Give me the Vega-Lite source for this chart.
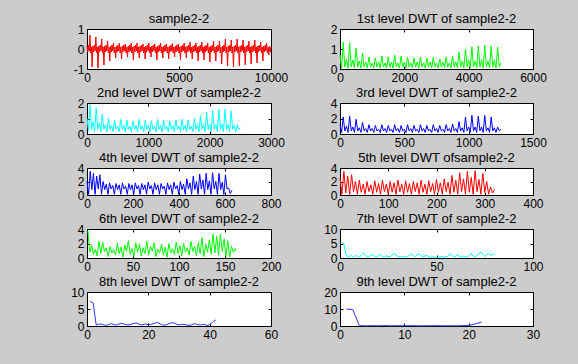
{
"$schema": "https://vega.github.io/schema/vega-lite/v6.json",
"background": "#cccccc",
"padding": {"left": 70, "top": 12, "right": 32, "bottom": 27},
"bounds": "flush",
"columns": 2,
"spacing": {"row": 34, "column": 69},
"datasets": {
"p1": [{"x":0,"y":0.15},{"x":40,"y":-0.15},{"x":80,"y":0.2},{"x":120,"y":-0.1},{"x":160,"y":0.7},{"x":200,"y":-0.2},{"x":240,"y":0.1},{"x":280,"y":-0.9},
{"x":320,"y":0.15},{"x":360,"y":-0.15},{"x":400,"y":0.2},{"x":440,"y":-0.1},{"x":480,"y":0.6},{"x":520,"y":-0.2},{"x":560,"y":0.1},{"x":600,"y":-0.95},
{"x":640,"y":0.15},{"x":680,"y":-0.15},{"x":720,"y":0.2},{"x":760,"y":-0.1},{"x":800,"y":0.5},{"x":840,"y":-0.2},{"x":880,"y":0.1},{"x":920,"y":-0.8},
{"x":960,"y":0.15},{"x":1000,"y":-0.15},{"x":1040,"y":0.2},{"x":1080,"y":-0.1},{"x":1120,"y":0.4},{"x":1160,"y":-0.2},{"x":1200,"y":0.1},{"x":1240,"y":-0.6},
{"x":1280,"y":0.15},{"x":1320,"y":-0.15},{"x":1360,"y":0.2},{"x":1400,"y":-0.1},{"x":1440,"y":0.3},{"x":1480,"y":-0.2},{"x":1520,"y":0.1},{"x":1560,"y":-0.45},
{"x":1600,"y":0.15},{"x":1640,"y":-0.15},{"x":1680,"y":0.2},{"x":1720,"y":-0.1},{"x":1760,"y":0.3},{"x":1800,"y":-0.2},{"x":1840,"y":0.1},{"x":1880,"y":-0.5},
{"x":1920,"y":0.15},{"x":1960,"y":-0.15},{"x":2000,"y":0.2},{"x":2040,"y":-0.1},{"x":2080,"y":0.25},{"x":2120,"y":-0.2},{"x":2160,"y":0.1},{"x":2200,"y":-0.4},
{"x":2240,"y":0.15},{"x":2280,"y":-0.15},{"x":2320,"y":0.2},{"x":2360,"y":-0.1},{"x":2400,"y":0.3},{"x":2440,"y":-0.2},{"x":2480,"y":0.1},{"x":2520,"y":-0.55},
{"x":2560,"y":0.15},{"x":2600,"y":-0.15},{"x":2640,"y":0.2},{"x":2680,"y":-0.1},{"x":2720,"y":0.3},{"x":2760,"y":-0.2},{"x":2800,"y":0.1},{"x":2840,"y":-0.45},
{"x":2880,"y":0.15},{"x":2920,"y":-0.15},{"x":2960,"y":0.2},{"x":3000,"y":-0.1},{"x":3040,"y":0.25},{"x":3080,"y":-0.2},{"x":3120,"y":0.1},{"x":3160,"y":-0.5},
{"x":3200,"y":0.15},{"x":3240,"y":-0.15},{"x":3280,"y":0.2},{"x":3320,"y":-0.1},{"x":3360,"y":0.3},{"x":3400,"y":-0.2},{"x":3440,"y":0.1},{"x":3480,"y":-0.4},
{"x":3520,"y":0.15},{"x":3560,"y":-0.15},{"x":3600,"y":0.2},{"x":3640,"y":-0.1},{"x":3680,"y":0.25},{"x":3720,"y":-0.2},{"x":3760,"y":0.1},{"x":3800,"y":-0.55},
{"x":3840,"y":0.15},{"x":3880,"y":-0.15},{"x":3920,"y":0.2},{"x":3960,"y":-0.1},{"x":4000,"y":0.3},{"x":4040,"y":-0.2},{"x":4080,"y":0.1},{"x":4120,"y":-0.45},
{"x":4160,"y":0.15},{"x":4200,"y":-0.15},{"x":4240,"y":0.2},{"x":4280,"y":-0.1},{"x":4320,"y":0.25},{"x":4360,"y":-0.2},{"x":4400,"y":0.1},{"x":4440,"y":-0.5},
{"x":4480,"y":0.15},{"x":4520,"y":-0.15},{"x":4560,"y":0.2},{"x":4600,"y":-0.1},{"x":4640,"y":0.3},{"x":4680,"y":-0.2},{"x":4720,"y":0.1},{"x":4760,"y":-0.4},
{"x":4800,"y":0.15},{"x":4840,"y":-0.15},{"x":4880,"y":0.2},{"x":4920,"y":-0.1},{"x":4960,"y":0.25},{"x":5000,"y":-0.2},{"x":5040,"y":0.1},{"x":5080,"y":-0.55},
{"x":5120,"y":0.15},{"x":5160,"y":-0.15},{"x":5200,"y":0.2},{"x":5240,"y":-0.1},{"x":5280,"y":0.3},{"x":5320,"y":-0.2},{"x":5360,"y":0.1},{"x":5400,"y":-0.45},
{"x":5440,"y":0.15},{"x":5480,"y":-0.15},{"x":5520,"y":0.2},{"x":5560,"y":-0.1},{"x":5600,"y":0.35},{"x":5640,"y":-0.2},{"x":5680,"y":0.1},{"x":5720,"y":-0.5},
{"x":5760,"y":0.15},{"x":5800,"y":-0.15},{"x":5840,"y":0.2},{"x":5880,"y":-0.1},{"x":5920,"y":0.3},{"x":5960,"y":-0.2},{"x":6000,"y":0.1},{"x":6040,"y":-0.6},
{"x":6080,"y":0.15},{"x":6120,"y":-0.15},{"x":6160,"y":0.2},{"x":6200,"y":-0.1},{"x":6240,"y":0.35},{"x":6280,"y":-0.2},{"x":6320,"y":0.1},{"x":6360,"y":-0.55},
{"x":6400,"y":0.15},{"x":6440,"y":-0.15},{"x":6480,"y":0.2},{"x":6520,"y":-0.1},{"x":6560,"y":0.3},{"x":6600,"y":-0.2},{"x":6640,"y":0.1},{"x":6680,"y":-0.65},
{"x":6720,"y":0.15},{"x":6760,"y":-0.15},{"x":6800,"y":0.2},{"x":6840,"y":-0.1},{"x":6880,"y":0.4},{"x":6920,"y":-0.2},{"x":6960,"y":0.1},{"x":7000,"y":-0.6},
{"x":7040,"y":0.15},{"x":7080,"y":-0.15},{"x":7120,"y":0.2},{"x":7160,"y":-0.1},{"x":7200,"y":0.4},{"x":7240,"y":-0.2},{"x":7280,"y":0.1},{"x":7320,"y":-0.75},
{"x":7360,"y":0.15},{"x":7400,"y":-0.15},{"x":7440,"y":0.2},{"x":7480,"y":-0.1},{"x":7520,"y":0.5},{"x":7560,"y":-0.2},{"x":7600,"y":0.1},{"x":7640,"y":-0.85},
{"x":7680,"y":0.15},{"x":7720,"y":-0.15},{"x":7760,"y":0.2},{"x":7800,"y":-0.1},{"x":7840,"y":0.45},{"x":7880,"y":-0.2},{"x":7920,"y":0.1},{"x":7960,"y":-0.9},
{"x":8000,"y":0.15},{"x":8040,"y":-0.15},{"x":8080,"y":0.2},{"x":8120,"y":-0.1},{"x":8160,"y":0.5},{"x":8200,"y":-0.2},{"x":8240,"y":0.1},{"x":8280,"y":-0.85},
{"x":8320,"y":0.15},{"x":8360,"y":-0.15},{"x":8400,"y":0.2},{"x":8440,"y":-0.1},{"x":8480,"y":0.45},{"x":8520,"y":-0.2},{"x":8560,"y":0.1},{"x":8600,"y":-0.8},
{"x":8640,"y":0.15},{"x":8680,"y":-0.15},{"x":8720,"y":0.2},{"x":8760,"y":-0.1},{"x":8800,"y":0.4},{"x":8840,"y":-0.2},{"x":8880,"y":0.1},{"x":8920,"y":-0.75},
{"x":8960,"y":0.15},{"x":9000,"y":-0.15},{"x":9040,"y":0.2},{"x":9080,"y":-0.1},{"x":9120,"y":0.45},{"x":9160,"y":-0.2},{"x":9200,"y":0.1},{"x":9240,"y":-0.7},
{"x":9280,"y":0.15},{"x":9320,"y":-0.15},{"x":9360,"y":0.2},{"x":9400,"y":-0.1},{"x":9440,"y":0.35},{"x":9480,"y":-0.2},{"x":9520,"y":0.1},{"x":9560,"y":-0.6},
{"x":9600,"y":0.15},{"x":9640,"y":-0.15},{"x":9680,"y":0.2},{"x":9720,"y":-0.1},{"x":9760,"y":0.3},{"x":9800,"y":-0.2},{"x":9840,"y":0.1},{"x":9880,"y":-0.3},
{"x":9920,"y":0.15},{"x":9960,"y":-0.15},{"x":10000,"y":0.1}],
"p2": [{"x":0,"y":0.7},{"x":50,"y":0.05},{"x":100,"y":1.35},{"x":150,"y":0.1},{"x":200,"y":0.5},{"x":250,"y":0.05},{"x":300,"y":1.3},{"x":350,"y":0.1},{"x":400,"y":0.45},{"x":450,"y":0.05},{"x":500,"y":1.05},{"x":550,"y":0.1},{"x":600,"y":0.4},{"x":650,"y":0.05},{"x":700,"y":0.8},{"x":750,"y":0.1},{"x":800,"y":0.35},{"x":850,"y":0.05},{"x":900,"y":0.6},{"x":950,"y":0.1},{"x":1000,"y":0.3},{"x":1050,"y":0.05},{"x":1100,"y":0.55},{"x":1150,"y":0.1},{"x":1200,"y":0.35},{"x":1250,"y":0.05},{"x":1300,"y":0.65},{"x":1350,"y":0.1},{"x":1400,"y":0.3},{"x":1450,"y":0.05},{"x":1500,"y":0.6},{"x":1550,"y":0.1},{"x":1600,"y":0.35},{"x":1650,"y":0.05},{"x":1700,"y":0.7},{"x":1750,"y":0.1},{"x":1800,"y":0.3},{"x":1850,"y":0.05},{"x":1900,"y":0.65},{"x":1950,"y":0.1},{"x":2000,"y":0.35},{"x":2050,"y":0.05},{"x":2100,"y":0.6},{"x":2150,"y":0.1},{"x":2200,"y":0.3},{"x":2250,"y":0.05},{"x":2300,"y":0.55},{"x":2350,"y":0.1},{"x":2400,"y":0.35},{"x":2450,"y":0.05},{"x":2500,"y":0.6},{"x":2550,"y":0.1},{"x":2600,"y":0.3},{"x":2650,"y":0.05},{"x":2700,"y":0.55},{"x":2750,"y":0.1},{"x":2800,"y":0.35},{"x":2850,"y":0.05},{"x":2900,"y":0.6},{"x":2950,"y":0.1},{"x":3000,"y":0.3},{"x":3050,"y":0.05},{"x":3100,"y":0.5},{"x":3150,"y":0.1},{"x":3200,"y":0.35},{"x":3250,"y":0.05},{"x":3300,"y":0.6},{"x":3350,"y":0.1},{"x":3400,"y":0.3},{"x":3450,"y":0.05},{"x":3500,"y":0.65},{"x":3550,"y":0.1},{"x":3600,"y":0.35},{"x":3650,"y":0.05},{"x":3700,"y":0.85},{"x":3750,"y":0.1},{"x":3800,"y":0.4},{"x":3850,"y":0.05},{"x":3900,"y":1.0},{"x":3950,"y":0.1},{"x":4000,"y":0.45},{"x":4050,"y":0.05},{"x":4100,"y":1.1},{"x":4150,"y":0.1},{"x":4200,"y":0.4},{"x":4250,"y":0.05},{"x":4300,"y":1.15},{"x":4350,"y":0.1},{"x":4400,"y":0.45},{"x":4450,"y":0.05},{"x":4500,"y":1.2},{"x":4550,"y":0.1},{"x":4600,"y":0.4},{"x":4650,"y":0.05},{"x":4700,"y":1.15},{"x":4750,"y":0.1},{"x":4800,"y":0.45},{"x":4850,"y":0.05},{"x":4900,"y":1.1},{"x":4950,"y":0.1},{"x":5000,"y":0.3}],
"p3": [{"x":0,"y":1.0},{"x":25,"y":0.2},{"x":50,"y":1.9},{"x":75,"y":0.3},{"x":100,"y":0.8},{"x":125,"y":0.15},{"x":150,"y":1.7},{"x":175,"y":0.3},{"x":200,"y":0.7},{"x":225,"y":0.15},{"x":250,"y":1.3},{"x":275,"y":0.3},{"x":300,"y":0.6},{"x":325,"y":0.15},{"x":350,"y":1.0},{"x":375,"y":0.3},{"x":400,"y":0.55},{"x":425,"y":0.15},{"x":450,"y":0.9},{"x":475,"y":0.3},{"x":500,"y":0.5},{"x":525,"y":0.15},{"x":550,"y":0.95},{"x":575,"y":0.3},{"x":600,"y":0.55},{"x":625,"y":0.15},{"x":650,"y":0.9},{"x":675,"y":0.3},{"x":700,"y":0.5},{"x":725,"y":0.15},{"x":750,"y":0.85},{"x":775,"y":0.3},{"x":800,"y":0.55},{"x":825,"y":0.15},{"x":850,"y":0.95},{"x":875,"y":0.3},{"x":900,"y":0.5},{"x":925,"y":0.15},{"x":950,"y":0.9},{"x":975,"y":0.3},{"x":1000,"y":0.55},{"x":1025,"y":0.15},{"x":1050,"y":0.85},{"x":1075,"y":0.3},{"x":1100,"y":0.5},{"x":1125,"y":0.15},{"x":1150,"y":0.95},{"x":1175,"y":0.3},{"x":1200,"y":0.55},{"x":1225,"y":0.15},{"x":1250,"y":0.9},{"x":1275,"y":0.3},{"x":1300,"y":0.5},{"x":1325,"y":0.15},{"x":1350,"y":0.85},{"x":1375,"y":0.3},{"x":1400,"y":0.55},{"x":1425,"y":0.15},{"x":1450,"y":0.9},{"x":1475,"y":0.3},{"x":1500,"y":0.5},{"x":1525,"y":0.15},{"x":1550,"y":0.95},{"x":1575,"y":0.3},{"x":1600,"y":0.55},{"x":1625,"y":0.15},{"x":1650,"y":0.9},{"x":1675,"y":0.3},{"x":1700,"y":0.5},{"x":1725,"y":0.15},{"x":1750,"y":1.0},{"x":1775,"y":0.3},{"x":1800,"y":0.6},{"x":1825,"y":0.15},{"x":1850,"y":1.2},{"x":1875,"y":0.3},{"x":1900,"y":0.6},{"x":1925,"y":0.15},{"x":1950,"y":1.4},{"x":1975,"y":0.3},{"x":2000,"y":0.65},{"x":2025,"y":0.15},{"x":2050,"y":1.5},{"x":2075,"y":0.3},{"x":2100,"y":0.6},{"x":2125,"y":0.15},{"x":2150,"y":1.6},{"x":2175,"y":0.3},{"x":2200,"y":0.65},{"x":2225,"y":0.15},{"x":2250,"y":1.6},{"x":2275,"y":0.3},{"x":2300,"y":0.6},{"x":2325,"y":0.15},{"x":2350,"y":1.5},{"x":2375,"y":0.3},{"x":2400,"y":0.55},{"x":2425,"y":0.15},{"x":2450,"y":0.6},{"x":2475,"y":0.3},{"x":2500,"y":0.4}],
"p4": [{"x":0,"y":1.2},{"x":12.5,"y":0.2},{"x":25,"y":2.2},{"x":37.5,"y":0.4},{"x":50,"y":1.0},{"x":62.5,"y":0.2},{"x":75,"y":2.3},{"x":87.5,"y":0.4},{"x":100,"y":0.9},{"x":112.5,"y":0.2},{"x":125,"y":1.9},{"x":137.5,"y":0.4},{"x":150,"y":0.8},{"x":162.5,"y":0.2},{"x":175,"y":1.5},{"x":187.5,"y":0.4},{"x":200,"y":0.7},{"x":212.5,"y":0.2},{"x":225,"y":1.2},{"x":237.5,"y":0.4},{"x":250,"y":0.7},{"x":262.5,"y":0.2},{"x":275,"y":1.1},{"x":287.5,"y":0.4},{"x":300,"y":0.6},{"x":312.5,"y":0.2},{"x":325,"y":1.2},{"x":337.5,"y":0.4},{"x":350,"y":0.7},{"x":362.5,"y":0.2},{"x":375,"y":1.1},{"x":387.5,"y":0.4},{"x":400,"y":0.6},{"x":412.5,"y":0.2},{"x":425,"y":1.2},{"x":437.5,"y":0.4},{"x":450,"y":0.7},{"x":462.5,"y":0.2},{"x":475,"y":1.1},{"x":487.5,"y":0.4},{"x":500,"y":0.6},{"x":512.5,"y":0.2},{"x":525,"y":1.2},{"x":537.5,"y":0.4},{"x":550,"y":0.7},{"x":562.5,"y":0.2},{"x":575,"y":1.1},{"x":587.5,"y":0.4},{"x":600,"y":0.6},{"x":612.5,"y":0.2},{"x":625,"y":1.2},{"x":637.5,"y":0.4},{"x":650,"y":0.7},{"x":662.5,"y":0.2},{"x":675,"y":1.1},{"x":687.5,"y":0.4},{"x":700,"y":0.6},{"x":712.5,"y":0.2},{"x":725,"y":1.2},{"x":737.5,"y":0.4},{"x":750,"y":0.7},{"x":762.5,"y":0.2},{"x":775,"y":1.1},{"x":787.5,"y":0.4},{"x":800,"y":0.6},{"x":812.5,"y":0.2},{"x":825,"y":1.2},{"x":837.5,"y":0.4},{"x":850,"y":0.7},{"x":862.5,"y":0.2},{"x":875,"y":1.3},{"x":887.5,"y":0.4},{"x":900,"y":0.7},{"x":912.5,"y":0.2},{"x":925,"y":1.6},{"x":937.5,"y":0.4},{"x":950,"y":0.8},{"x":962.5,"y":0.2},{"x":975,"y":2.2},{"x":987.5,"y":0.4},{"x":1000,"y":0.9},{"x":1012.5,"y":0.2},{"x":1025,"y":2.4},{"x":1037.5,"y":0.4},{"x":1050,"y":0.9},{"x":1062.5,"y":0.2},{"x":1075,"y":2.3},{"x":1087.5,"y":0.4},{"x":1100,"y":0.9},{"x":1112.5,"y":0.2},{"x":1125,"y":2.4},{"x":1137.5,"y":0.4},{"x":1150,"y":0.8},{"x":1162.5,"y":0.2},{"x":1175,"y":2.2},{"x":1187.5,"y":0.4},{"x":1200,"y":0.8},{"x":1212.5,"y":0.2},{"x":1225,"y":0.9},{"x":1237.5,"y":0.4},{"x":1250,"y":0.6}],
"p5": [{"x":0,"y":2.0},{"x":7,"y":0.1},{"x":14,"y":3.5},{"x":21,"y":0.8},{"x":28,"y":3.2},{"x":35,"y":0.1},{"x":42,"y":2.8},{"x":49,"y":0.9},{"x":56,"y":3.0},{"x":63,"y":0.1},{"x":70,"y":2.0},{"x":77,"y":0.8},{"x":84,"y":1.6},{"x":91,"y":0.1},{"x":98,"y":1.8},{"x":105,"y":0.9},{"x":112,"y":1.4},{"x":119,"y":0.1},{"x":126,"y":1.7},{"x":133,"y":0.8},{"x":140,"y":1.5},{"x":147,"y":0.1},{"x":154,"y":1.8},{"x":161,"y":0.9},{"x":168,"y":1.3},{"x":175,"y":0.1},{"x":182,"y":1.7},{"x":189,"y":0.8},{"x":196,"y":1.5},{"x":203,"y":0.1},{"x":210,"y":1.8},{"x":217,"y":0.9},{"x":224,"y":1.4},{"x":231,"y":0.1},{"x":238,"y":1.7},{"x":245,"y":0.8},{"x":252,"y":1.5},{"x":259,"y":0.1},{"x":266,"y":1.9},{"x":273,"y":0.9},{"x":280,"y":1.4},{"x":287,"y":0.1},{"x":294,"y":1.8},{"x":301,"y":0.8},{"x":308,"y":1.5},{"x":315,"y":0.1},{"x":322,"y":1.7},{"x":329,"y":0.9},{"x":336,"y":1.3},{"x":343,"y":0.1},{"x":350,"y":1.8},{"x":357,"y":0.8},{"x":364,"y":1.5},{"x":371,"y":0.1},{"x":378,"y":1.9},{"x":385,"y":0.9},{"x":392,"y":1.4},{"x":399,"y":0.1},{"x":406,"y":2.0},{"x":413,"y":0.8},{"x":420,"y":1.6},{"x":427,"y":0.1},{"x":434,"y":2.4},{"x":441,"y":0.9},{"x":448,"y":1.8},{"x":455,"y":0.1},{"x":462,"y":2.8},{"x":469,"y":0.8},{"x":476,"y":2.0},{"x":483,"y":0.1},{"x":490,"y":3.1},{"x":497,"y":0.9},{"x":504,"y":2.2},{"x":511,"y":0.1},{"x":518,"y":3.2},{"x":525,"y":0.8},{"x":532,"y":2.1},{"x":539,"y":0.1},{"x":546,"y":3.3},{"x":553,"y":0.9},{"x":560,"y":2.0},{"x":567,"y":0.1},{"x":574,"y":3.2},{"x":581,"y":0.8},{"x":588,"y":1.9},{"x":595,"y":0.1},{"x":602,"y":3.0},{"x":609,"y":0.9},{"x":616,"y":1.0},{"x":623,"y":0.2},{"x":630,"y":0.7}],
"p6": [{"x":0,"y":2.5},{"x":4,"y":0.1},{"x":8,"y":3.5},{"x":12,"y":0.3},{"x":16,"y":2.8},{"x":20,"y":0.1},{"x":24,"y":3.0},{"x":28,"y":0.5},{"x":32,"y":2.0},{"x":36,"y":0.1},{"x":40,"y":2.2},{"x":44,"y":0.4},{"x":48,"y":1.6},{"x":52,"y":0.1},{"x":56,"y":2.0},{"x":60,"y":0.5},{"x":64,"y":1.5},{"x":68,"y":0.1},{"x":72,"y":2.1},{"x":76,"y":0.4},{"x":80,"y":1.7},{"x":84,"y":0.1},{"x":88,"y":2.2},{"x":92,"y":0.5},{"x":96,"y":1.6},{"x":100,"y":0.1},{"x":104,"y":2.0},{"x":108,"y":0.4},{"x":112,"y":1.8},{"x":116,"y":0.1},{"x":120,"y":2.2},{"x":124,"y":0.5},{"x":128,"y":1.6},{"x":132,"y":0.1},{"x":136,"y":2.1},{"x":140,"y":0.4},{"x":144,"y":1.7},{"x":148,"y":0.1},{"x":152,"y":2.0},{"x":156,"y":0.5},{"x":160,"y":1.8},{"x":164,"y":0.1},{"x":168,"y":2.2},{"x":172,"y":0.4},{"x":176,"y":1.6},{"x":180,"y":0.1},{"x":184,"y":2.1},{"x":188,"y":0.5},{"x":192,"y":1.7},{"x":196,"y":0.1},{"x":200,"y":2.3},{"x":204,"y":0.4},{"x":208,"y":1.8},{"x":212,"y":0.1},{"x":216,"y":2.4},{"x":220,"y":0.5},{"x":224,"y":1.9},{"x":228,"y":0.1},{"x":232,"y":2.9},{"x":236,"y":0.4},{"x":240,"y":2.2},{"x":244,"y":0.1},{"x":248,"y":3.3},{"x":252,"y":0.5},{"x":256,"y":2.4},{"x":260,"y":0.1},{"x":264,"y":3.5},{"x":268,"y":0.4},{"x":272,"y":2.6},{"x":276,"y":0.1},{"x":280,"y":3.6},{"x":284,"y":0.5},{"x":288,"y":2.3},{"x":292,"y":0.1},{"x":296,"y":3.2},{"x":300,"y":0.4},{"x":304,"y":2.0},{"x":308,"y":0.1},{"x":312,"y":1.2},{"x":316,"y":0.3},{"x":320,"y":0.8}],
"p7": [{"x":1,"y":3.8},{"x":3,"y":0.8},{"x":5,"y":1.8},{"x":7,"y":0.5},{"x":9,"y":1.2},{"x":11,"y":0.3},{"x":13,"y":2.3},{"x":15,"y":0.6},{"x":17,"y":2.2},{"x":19,"y":0.9},{"x":21,"y":1.4},{"x":23,"y":0.2},{"x":25,"y":1.6},{"x":27,"y":0.7},{"x":29,"y":1.2},{"x":31,"y":0.4},{"x":33,"y":2.0},{"x":35,"y":0.6},{"x":37,"y":1.5},{"x":39,"y":0.1},{"x":41,"y":1.8},{"x":43,"y":0.9},{"x":45,"y":2.4},{"x":47,"y":0.5},{"x":49,"y":1.3},{"x":51,"y":0.2},{"x":53,"y":2.1},{"x":55,"y":0.8},{"x":57,"y":1.9},{"x":59,"y":0.3},{"x":61,"y":1.4},{"x":63,"y":0.6},{"x":65,"y":2.3},{"x":67,"y":0.4},{"x":69,"y":1.6},{"x":71,"y":0.9},{"x":73,"y":2.1},{"x":75,"y":0.2},{"x":77,"y":1.2},{"x":79,"y":0.7},{"x":81,"y":1.9},{"x":83,"y":0.4},{"x":85,"y":1.5},{"x":87,"y":0.1},{"x":89,"y":2.0},{"x":91,"y":0.7},{"x":93,"y":1.3},{"x":95,"y":0.5},{"x":97,"y":2.2},{"x":99,"y":0.6},{"x":101,"y":1.7},{"x":103,"y":0.3},{"x":105,"y":2.0},{"x":107,"y":0.8},{"x":109,"y":1.4},{"x":111,"y":0.4},{"x":113,"y":2.3},{"x":115,"y":0.9},{"x":117,"y":1.6},{"x":119,"y":0.3},{"x":121,"y":2.1},{"x":123,"y":0.6},{"x":125,"y":2.8},{"x":127,"y":0.2},{"x":129,"y":1.9},{"x":131,"y":0.8},{"x":133,"y":2.5},{"x":135,"y":0.5},{"x":137,"y":3.3},{"x":139,"y":0.7},{"x":141,"y":3.0},{"x":143,"y":0.4},{"x":145,"y":3.3},{"x":147,"y":0.9},{"x":149,"y":2.6},{"x":151,"y":0.2},{"x":153,"y":2.4},{"x":155,"y":0.1},{"x":157,"y":1.6},{"x":159,"y":0.8},{"x":161,"y":1.3},{"x":162,"y":1.0}],
"p8": [{"x":1,"y":5.2},{"x":2,"y":5.0},{"x":3,"y":1.5},{"x":4,"y":0.4},{"x":5,"y":0.6},{"x":6,"y":0.8},{"x":7,"y":0.3},{"x":8,"y":0.9},{"x":9,"y":0.6},{"x":10,"y":0.2},{"x":11,"y":1.0},{"x":12,"y":1.7},{"x":13,"y":1.2},{"x":14,"y":0.4},{"x":15,"y":0.6},{"x":16,"y":0.9},{"x":17,"y":1.3},{"x":18,"y":0.5},{"x":19,"y":0.2},{"x":20,"y":0.8},{"x":21,"y":1.3},{"x":22,"y":0.6},{"x":23,"y":0.3},{"x":24,"y":0.7},{"x":25,"y":0.5},{"x":26,"y":0.4},{"x":27,"y":1.0},{"x":28,"y":1.6},{"x":29,"y":1.0},{"x":30,"y":0.5},{"x":31,"y":0.4},{"x":32,"y":0.5},{"x":33,"y":0.4},{"x":34,"y":0.4},{"x":35,"y":0.6},{"x":36,"y":0.9},{"x":37,"y":1.4},{"x":38,"y":0.8},{"x":39,"y":0.5},{"x":40,"y":1.1},{"x":41,"y":1.4},{"x":42,"y":0.8},{"x":43,"y":0.3},{"x":44,"y":0.7},{"x":45,"y":0.9},{"x":46,"y":0.4},{"x":47,"y":0.3},{"x":48,"y":0.4},{"x":49,"y":0.3},{"x":50,"y":0.2},{"x":51,"y":0.3},{"x":52,"y":0.4},{"x":53,"y":0.5},{"x":54,"y":0.3},{"x":55,"y":0.5},{"x":56,"y":0.6},{"x":57,"y":1.5},{"x":58,"y":0.9},{"x":59,"y":0.3},{"x":60,"y":0.6},{"x":61,"y":1.1},{"x":62,"y":0.5},{"x":63,"y":0.3},{"x":64,"y":0.6},{"x":65,"y":0.4},{"x":66,"y":0.3},{"x":67,"y":0.8},{"x":68,"y":1.6},{"x":69,"y":0.7},{"x":70,"y":0.3},{"x":71,"y":1.0},{"x":72,"y":1.5},{"x":73,"y":2.1},{"x":74,"y":1.3},{"x":75,"y":0.5},{"x":76,"y":1.0},{"x":77,"y":1.6},{"x":78,"y":0.9},{"x":79,"y":1.2},{"x":80,"y":1.3}],
"p9": [{"x":1,"y":7.2},{"x":2,"y":6.8},{"x":3,"y":0.3},{"x":4,"y":0.6},{"x":5,"y":0.5},{"x":6,"y":0.2},{"x":7,"y":0.4},{"x":8,"y":0.7},{"x":9,"y":0.3},{"x":10,"y":0.4},{"x":11,"y":0.8},{"x":12,"y":0.6},{"x":13,"y":0.3},{"x":14,"y":0.4},{"x":15,"y":0.7},{"x":16,"y":0.9},{"x":17,"y":0.5},{"x":18,"y":0.3},{"x":19,"y":0.6},{"x":20,"y":0.4},{"x":21,"y":0.5},{"x":22,"y":0.8},{"x":23,"y":1.0},{"x":24,"y":0.6},{"x":25,"y":0.2},{"x":26,"y":0.4},{"x":27,"y":0.8},{"x":28,"y":1.0},{"x":29,"y":0.6},{"x":30,"y":0.3},{"x":31,"y":0.5},{"x":32,"y":0.4},{"x":33,"y":0.2},{"x":34,"y":0.3},{"x":35,"y":0.7},{"x":36,"y":0.4},{"x":37,"y":0.3},{"x":38,"y":0.5},{"x":39,"y":0.2},{"x":40,"y":0.3},{"x":41,"y":1.2},{"x":42,"y":1.8}],
"p10": [{"x":1,"y":10.0},{"x":2,"y":9.6},{"x":3,"y":0.2},{"x":4,"y":0.1},{"x":5,"y":0.15},{"x":6,"y":0.1},{"x":7,"y":0.2},{"x":8,"y":0.1},{"x":9,"y":0.15},{"x":10,"y":0.1},{"x":11,"y":0.2},{"x":12,"y":0.1},{"x":13,"y":0.15},{"x":14,"y":0.1},{"x":15,"y":0.2},{"x":16,"y":0.1},{"x":17,"y":0.15},{"x":18,"y":0.1},{"x":19,"y":0.2},{"x":20,"y":0.3},{"x":21,"y":1.2},{"x":22,"y":2.3}]
},
"concat": [
{"title": "sample2-2", "width": 184, "height": 40, "data": {"name": "p1"}, "resolve": {"axis": {"x": "independent", "y": "independent"}}, "layer": [
 {"mark": {"type": "line", "color": "#ff0000", "strokeWidth": 1}, "encoding": {"x": {"field": "x", "type": "quantitative", "title": null, "scale": {"domain": [0, 10000], "nice": false}, "axis": {"values": [0, 5000, 10000]}}, "y": {"field": "y", "type": "quantitative", "title": null, "scale": {"domain": [-1, 1], "nice": false, "zero": false}, "axis": {"values": [-1, 0, 1]}}}},
 {"mark": {"type": "line", "opacity": 0}, "encoding": {"x": {"field": "x", "type": "quantitative", "title": null, "scale": {"domain": [0, 10000], "nice": false}, "axis": {"orient": "top", "labels": false, "values": [0, 5000, 10000]}}, "y": {"field": "y", "type": "quantitative", "title": null, "scale": {"domain": [-1, 1], "nice": false, "zero": false}, "axis": {"orient": "right", "labels": false, "values": [-1, 0, 1]}}}}]},
{"title": "1st level DWT of sample2-2", "width": 193, "height": 40, "data": {"name": "p2"}, "resolve": {"axis": {"x": "independent", "y": "independent"}}, "layer": [
 {"mark": {"type": "line", "color": "#00ff00", "strokeWidth": 1}, "encoding": {"x": {"field": "x", "type": "quantitative", "title": null, "scale": {"domain": [0, 6000], "nice": false}, "axis": {"values": [0, 2000, 4000, 6000]}}, "y": {"field": "y", "type": "quantitative", "title": null, "scale": {"domain": [0, 2], "nice": false}, "axis": {"values": [0, 1, 2]}}}},
 {"mark": {"type": "line", "opacity": 0}, "encoding": {"x": {"field": "x", "type": "quantitative", "title": null, "scale": {"domain": [0, 6000], "nice": false}, "axis": {"orient": "top", "labels": false, "values": [0, 2000, 4000, 6000]}}, "y": {"field": "y", "type": "quantitative", "title": null, "scale": {"domain": [0, 2], "nice": false}, "axis": {"orient": "right", "labels": false, "values": [0, 1, 2]}}}}]},
{"title": "2nd level DWT of sample2-2", "width": 184, "height": 31, "data": {"name": "p3"}, "resolve": {"axis": {"x": "independent", "y": "independent"}}, "layer": [
 {"mark": {"type": "line", "color": "#00ffff", "strokeWidth": 1}, "encoding": {"x": {"field": "x", "type": "quantitative", "title": null, "scale": {"domain": [0, 3000], "nice": false}, "axis": {"values": [0, 1000, 2000, 3000]}}, "y": {"field": "y", "type": "quantitative", "title": null, "scale": {"domain": [0, 2], "nice": false}, "axis": {"values": [0, 1, 2]}}}},
 {"mark": {"type": "line", "opacity": 0}, "encoding": {"x": {"field": "x", "type": "quantitative", "title": null, "scale": {"domain": [0, 3000], "nice": false}, "axis": {"orient": "top", "labels": false, "values": [0, 1000, 2000, 3000]}}, "y": {"field": "y", "type": "quantitative", "title": null, "scale": {"domain": [0, 2], "nice": false}, "axis": {"orient": "right", "labels": false, "values": [0, 1, 2]}}}}]},
{"title": "3rd level DWT of sample2-2", "width": 193, "height": 31, "data": {"name": "p4"}, "resolve": {"axis": {"x": "independent", "y": "independent"}}, "layer": [
 {"mark": {"type": "line", "color": "#0000ff", "strokeWidth": 1}, "encoding": {"x": {"field": "x", "type": "quantitative", "title": null, "scale": {"domain": [0, 1500], "nice": false}, "axis": {"values": [0, 500, 1000, 1500]}}, "y": {"field": "y", "type": "quantitative", "title": null, "scale": {"domain": [0, 4], "nice": false}, "axis": {"values": [0, 2, 4]}}}},
 {"mark": {"type": "line", "opacity": 0}, "encoding": {"x": {"field": "x", "type": "quantitative", "title": null, "scale": {"domain": [0, 1500], "nice": false}, "axis": {"orient": "top", "labels": false, "values": [0, 500, 1000, 1500]}}, "y": {"field": "y", "type": "quantitative", "title": null, "scale": {"domain": [0, 4], "nice": false}, "axis": {"orient": "right", "labels": false, "values": [0, 2, 4]}}}}]},
{"title": "4th level DWT of sample2-2", "width": 184, "height": 27, "data": {"name": "p5"}, "resolve": {"axis": {"x": "independent", "y": "independent"}}, "layer": [
 {"mark": {"type": "line", "color": "#0000ff", "strokeWidth": 1}, "encoding": {"x": {"field": "x", "type": "quantitative", "title": null, "scale": {"domain": [0, 800], "nice": false}, "axis": {"values": [0, 200, 400, 600, 800]}}, "y": {"field": "y", "type": "quantitative", "title": null, "scale": {"domain": [0, 4], "nice": false}, "axis": {"values": [0, 2, 4]}}}},
 {"mark": {"type": "line", "opacity": 0}, "encoding": {"x": {"field": "x", "type": "quantitative", "title": null, "scale": {"domain": [0, 800], "nice": false}, "axis": {"orient": "top", "labels": false, "values": [0, 200, 400, 600, 800]}}, "y": {"field": "y", "type": "quantitative", "title": null, "scale": {"domain": [0, 4], "nice": false}, "axis": {"orient": "right", "labels": false, "values": [0, 2, 4]}}}}]},
{"title": "5th level DWT ofsample2-2", "width": 193, "height": 27, "data": {"name": "p6"}, "resolve": {"axis": {"x": "independent", "y": "independent"}}, "layer": [
 {"mark": {"type": "line", "color": "#ff0000", "strokeWidth": 1}, "encoding": {"x": {"field": "x", "type": "quantitative", "title": null, "scale": {"domain": [0, 400], "nice": false}, "axis": {"values": [0, 100, 200, 300, 400]}}, "y": {"field": "y", "type": "quantitative", "title": null, "scale": {"domain": [0, 4], "nice": false}, "axis": {"values": [0, 2, 4]}}}},
 {"mark": {"type": "line", "opacity": 0}, "encoding": {"x": {"field": "x", "type": "quantitative", "title": null, "scale": {"domain": [0, 400], "nice": false}, "axis": {"orient": "top", "labels": false, "values": [0, 100, 200, 300, 400]}}, "y": {"field": "y", "type": "quantitative", "title": null, "scale": {"domain": [0, 4], "nice": false}, "axis": {"orient": "right", "labels": false, "values": [0, 2, 4]}}}}]},
{"title": "6th level DWT of sample2-2", "width": 184, "height": 29, "data": {"name": "p7"}, "resolve": {"axis": {"x": "independent", "y": "independent"}}, "layer": [
 {"mark": {"type": "line", "color": "#00ff00", "strokeWidth": 1}, "encoding": {"x": {"field": "x", "type": "quantitative", "title": null, "scale": {"domain": [0, 200], "nice": false}, "axis": {"values": [0, 50, 100, 150, 200]}}, "y": {"field": "y", "type": "quantitative", "title": null, "scale": {"domain": [0, 4], "nice": false}, "axis": {"values": [0, 2, 4]}}}},
 {"mark": {"type": "line", "opacity": 0}, "encoding": {"x": {"field": "x", "type": "quantitative", "title": null, "scale": {"domain": [0, 200], "nice": false}, "axis": {"orient": "top", "labels": false, "values": [0, 50, 100, 150, 200]}}, "y": {"field": "y", "type": "quantitative", "title": null, "scale": {"domain": [0, 4], "nice": false}, "axis": {"orient": "right", "labels": false, "values": [0, 2, 4]}}}}]},
{"title": "7th level DWT of sample2-2", "width": 193, "height": 29, "data": {"name": "p8"}, "resolve": {"axis": {"x": "independent", "y": "independent"}}, "layer": [
 {"mark": {"type": "line", "color": "#00ffff", "strokeWidth": 1}, "encoding": {"x": {"field": "x", "type": "quantitative", "title": null, "scale": {"domain": [0, 100], "nice": false}, "axis": {"values": [0, 50, 100]}}, "y": {"field": "y", "type": "quantitative", "title": null, "scale": {"domain": [0, 10], "nice": false}, "axis": {"values": [0, 5, 10]}}}},
 {"mark": {"type": "line", "opacity": 0}, "encoding": {"x": {"field": "x", "type": "quantitative", "title": null, "scale": {"domain": [0, 100], "nice": false}, "axis": {"orient": "top", "labels": false, "values": [0, 50, 100]}}, "y": {"field": "y", "type": "quantitative", "title": null, "scale": {"domain": [0, 10], "nice": false}, "axis": {"orient": "right", "labels": false, "values": [0, 5, 10]}}}}]},
{"title": "8th level DWT of sample2-2", "width": 184, "height": 34, "data": {"name": "p9"}, "resolve": {"axis": {"x": "independent", "y": "independent"}}, "layer": [
 {"mark": {"type": "line", "color": "#3333ff", "strokeWidth": 1}, "encoding": {"x": {"field": "x", "type": "quantitative", "title": null, "scale": {"domain": [0, 60], "nice": false}, "axis": {"values": [0, 20, 40, 60]}}, "y": {"field": "y", "type": "quantitative", "title": null, "scale": {"domain": [0, 10], "nice": false}, "axis": {"values": [0, 5, 10]}}}},
 {"mark": {"type": "line", "opacity": 0}, "encoding": {"x": {"field": "x", "type": "quantitative", "title": null, "scale": {"domain": [0, 60], "nice": false}, "axis": {"orient": "top", "labels": false, "values": [0, 20, 40, 60]}}, "y": {"field": "y", "type": "quantitative", "title": null, "scale": {"domain": [0, 10], "nice": false}, "axis": {"orient": "right", "labels": false, "values": [0, 5, 10]}}}}]},
{"title": "9th level DWT of sample2-2", "width": 193, "height": 34, "data": {"name": "p10"}, "resolve": {"axis": {"x": "independent", "y": "independent"}}, "layer": [
 {"mark": {"type": "line", "color": "#3333ff", "strokeWidth": 1}, "encoding": {"x": {"field": "x", "type": "quantitative", "title": null, "scale": {"domain": [0, 30], "nice": false}, "axis": {"values": [0, 10, 20, 30]}}, "y": {"field": "y", "type": "quantitative", "title": null, "scale": {"domain": [0, 20], "nice": false}, "axis": {"values": [0, 10, 20]}}}},
 {"mark": {"type": "line", "opacity": 0}, "encoding": {"x": {"field": "x", "type": "quantitative", "title": null, "scale": {"domain": [0, 30], "nice": false}, "axis": {"orient": "top", "labels": false, "values": [0, 10, 20, 30]}}, "y": {"field": "y", "type": "quantitative", "title": null, "scale": {"domain": [0, 20], "nice": false}, "axis": {"orient": "right", "labels": false, "values": [0, 10, 20]}}}}]}
],
"config": {
 "view": {"stroke": "#000000", "strokeWidth": 1, "fill": "#ffffff"},
 "axis": {"grid": false, "domain": false, "ticks": true, "tickSize": -3, "tickColor": "#000000", "labelFont": "Liberation Sans", "labelFontSize": 12, "labelColor": "#000000", "labelFlush": false, "labelOverlap": false, "labelBound": false, "labelExpr": "'' + datum.value"},
 "axisX": {"labelPadding": 6},
 "axisY": {"labelPadding": 6},
 "title": {"font": "Liberation Sans", "fontSize": 13, "fontWeight": "normal", "color": "#000000", "offset": -3}
}
}
